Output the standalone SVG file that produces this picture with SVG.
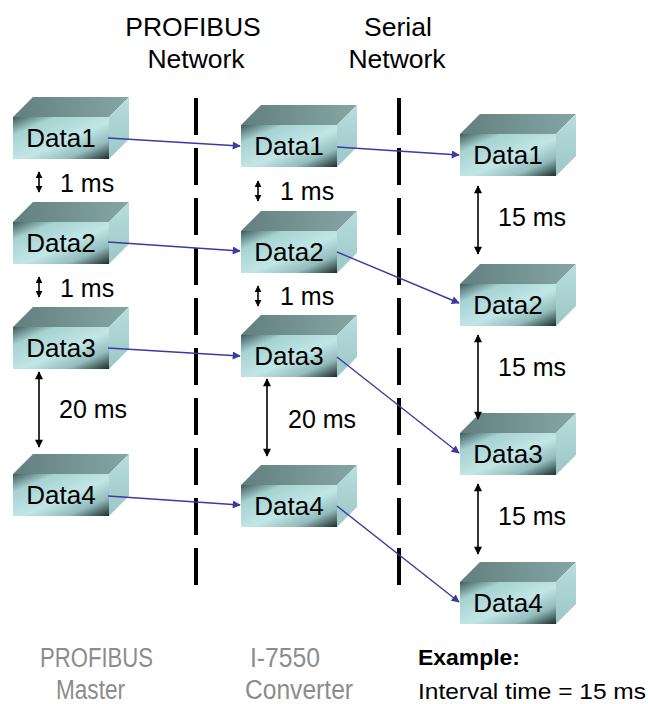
<svg xmlns="http://www.w3.org/2000/svg" width="648" height="704" viewBox="0 0 648 704">
<defs>
<linearGradient id="gFront" x1="0" y1="0" x2="1" y2="1">
<stop offset="0" stop-color="#415a5a"/>
<stop offset="0.22" stop-color="#a6d2d2"/>
<stop offset="0.55" stop-color="#c2e6e6"/>
<stop offset="0.78" stop-color="#93bcbc"/>
<stop offset="1" stop-color="#1c2a2a"/>
</linearGradient>
<linearGradient id="gTop" x1="0" y1="0" x2="1" y2="0">
<stop offset="0" stop-color="#627f7f"/>
<stop offset="1" stop-color="#86a6a6"/>
</linearGradient>
<linearGradient id="gSide" x1="0" y1="0" x2="0" y2="1">
<stop offset="0" stop-color="#b8dede"/>
<stop offset="1" stop-color="#9cc6c6"/>
</linearGradient>
<marker id="ab" viewBox="0 0 10 10" refX="9" refY="5" markerWidth="10" markerHeight="8" markerUnits="userSpaceOnUse" orient="auto">
<path d="M0,0 L10,5 L0,10 z" fill="#3b3ba0"/>
</marker>
<marker id="ak" viewBox="0 0 10 10" refX="9" refY="5" markerWidth="9" markerHeight="8" markerUnits="userSpaceOnUse" orient="auto-start-reverse">
<path d="M0,0 L10,5 L0,10 z" fill="#000"/>
</marker>
<marker id="as" viewBox="0 0 10 10" refX="9" refY="5" markerWidth="7" markerHeight="7" markerUnits="userSpaceOnUse" orient="auto-start-reverse">
<path d="M0,0 L10,5 L0,10 z" fill="#000"/>
</marker>
<g id="box">
<polygon points="0,0 20,-20 116,-20 96,0" fill="url(#gTop)"/>
<polygon points="96,0 116,-20 116,22 96,42" fill="url(#gSide)"/>
<rect x="0" y="0" width="96" height="42" fill="url(#gFront)"/>
</g>
</defs>
<style>
.hdr{font-family:"Liberation Sans",Arial,sans-serif;font-size:26.5px;fill:#000;text-anchor:middle}
.lbl{font-family:"Liberation Sans",Arial,sans-serif;font-size:26px;fill:#000;text-anchor:middle}
.ms{font-family:"Liberation Sans",Arial,sans-serif;font-size:25px;fill:#000}
.bot{font-family:"Liberation Sans",Arial,sans-serif;font-size:27px;fill:#8c8c8c}
.ex{font-family:"Liberation Sans",Arial,sans-serif;font-size:22px;fill:#000}
.dash{stroke:#000;stroke-width:4;stroke-dasharray:37 13;fill:none}
.blue{stroke:#3b3ba0;stroke-width:1.4;fill:none;marker-end:url(#ab)}
.blk{stroke:#000;stroke-width:1.6;fill:none;marker-start:url(#ak);marker-end:url(#ak)}
.blks{stroke:#000;stroke-width:1.6;fill:none;marker-start:url(#as);marker-end:url(#as)}
</style>
<rect width="648" height="704" fill="#fff"/>
<g id="headers">
<text class="hdr" x="193" y="36">PROFIBUS</text>
<text class="hdr" x="196" y="68">Network</text>
<text class="hdr" x="398" y="36">Serial</text>
<text class="hdr" x="397" y="68">Network</text>
</g>
<g id="dividers">
<line class="dash" x1="196" y1="98" x2="196" y2="588"/>
<line class="dash" x1="399" y1="98" x2="399" y2="588"/>
</g>
<g id="master-data1"><use href="#box" x="13" y="117"/><text class="lbl" x="61" y="147">Data1</text></g>
<g id="master-data2"><use href="#box" x="13" y="222"/><text class="lbl" x="61" y="252">Data2</text></g>
<g id="master-data3"><use href="#box" x="13" y="327"/><text class="lbl" x="61" y="357">Data3</text></g>
<g id="master-data4"><use href="#box" x="13" y="474"/><text class="lbl" x="61" y="504">Data4</text></g>
<g id="conv-data1"><use href="#box" x="241" y="125"/><text class="lbl" x="289" y="155">Data1</text></g>
<g id="conv-data2"><use href="#box" x="241" y="231"/><text class="lbl" x="289" y="261">Data2</text></g>
<g id="conv-data3"><use href="#box" x="241" y="335"/><text class="lbl" x="289" y="365">Data3</text></g>
<g id="conv-data4"><use href="#box" x="241" y="485"/><text class="lbl" x="289" y="515">Data4</text></g>
<g id="serial-data1"><use href="#box" x="460" y="134"/><text class="lbl" x="508" y="164">Data1</text></g>
<g id="serial-data2"><use href="#box" x="460" y="284"/><text class="lbl" x="508" y="314">Data2</text></g>
<g id="serial-data3"><use href="#box" x="460" y="433"/><text class="lbl" x="508" y="463">Data3</text></g>
<g id="serial-data4"><use href="#box" x="460" y="582"/><text class="lbl" x="508" y="612">Data4</text></g>
<g id="connectors">
<line class="blue" x1="108" y1="138" x2="240" y2="146"/>
<line class="blue" x1="337" y1="147" x2="459" y2="155"/>
<line class="blue" x1="108" y1="242" x2="240" y2="251"/>
<line class="blue" x1="337" y1="252" x2="459" y2="303"/>
<line class="blue" x1="108" y1="348" x2="240" y2="356"/>
<line class="blue" x1="337" y1="357" x2="459" y2="453"/>
<line class="blue" x1="108" y1="496" x2="240" y2="505"/>
<line class="blue" x1="337" y1="506" x2="459" y2="602"/>
<line class="blks" x1="39" y1="172" x2="39" y2="192"/>
<line class="blks" x1="39" y1="277" x2="39" y2="297"/>
<line class="blks" x1="258" y1="181" x2="258" y2="201"/>
<line class="blks" x1="258" y1="286" x2="258" y2="306"/>
<line class="blk" x1="39" y1="372" x2="39" y2="447"/>
<line class="blk" x1="267" y1="379" x2="267" y2="456"/>
<line class="blk" x1="478" y1="186" x2="478" y2="254"/>
<line class="blk" x1="478" y1="335" x2="478" y2="419"/>
<line class="blk" x1="478" y1="484" x2="478" y2="554"/>
</g>
<g id="intervals">
<text class="ms" x="60" y="192">1 ms</text>
<text class="ms" x="60" y="297">1 ms</text>
<text class="ms" x="280" y="200">1 ms</text>
<text class="ms" x="280" y="305">1 ms</text>
<text class="ms" x="59" y="418">20 ms</text>
<text class="ms" x="288" y="428">20 ms</text>
<text class="ms" x="498" y="226">15 ms</text>
<text class="ms" x="498" y="376">15 ms</text>
<text class="ms" x="498" y="525">15 ms</text>
</g>
<g id="footer">
<text class="bot" x="40" y="667" textLength="113" lengthAdjust="spacingAndGlyphs">PROFIBUS</text>
<text class="bot" x="56" y="699" textLength="69" lengthAdjust="spacingAndGlyphs">Master</text>
<text class="bot" x="250" y="667" textLength="70" lengthAdjust="spacingAndGlyphs">I-7550</text>
<text class="bot" x="245" y="699" textLength="108" lengthAdjust="spacingAndGlyphs">Converter</text>
<text class="ex" x="418" y="665" font-weight="bold" textLength="102" lengthAdjust="spacingAndGlyphs">Example:</text>
<text class="ex" x="418" y="699" textLength="228" lengthAdjust="spacingAndGlyphs">Interval time = 15 ms</text>
</g>
</svg>
